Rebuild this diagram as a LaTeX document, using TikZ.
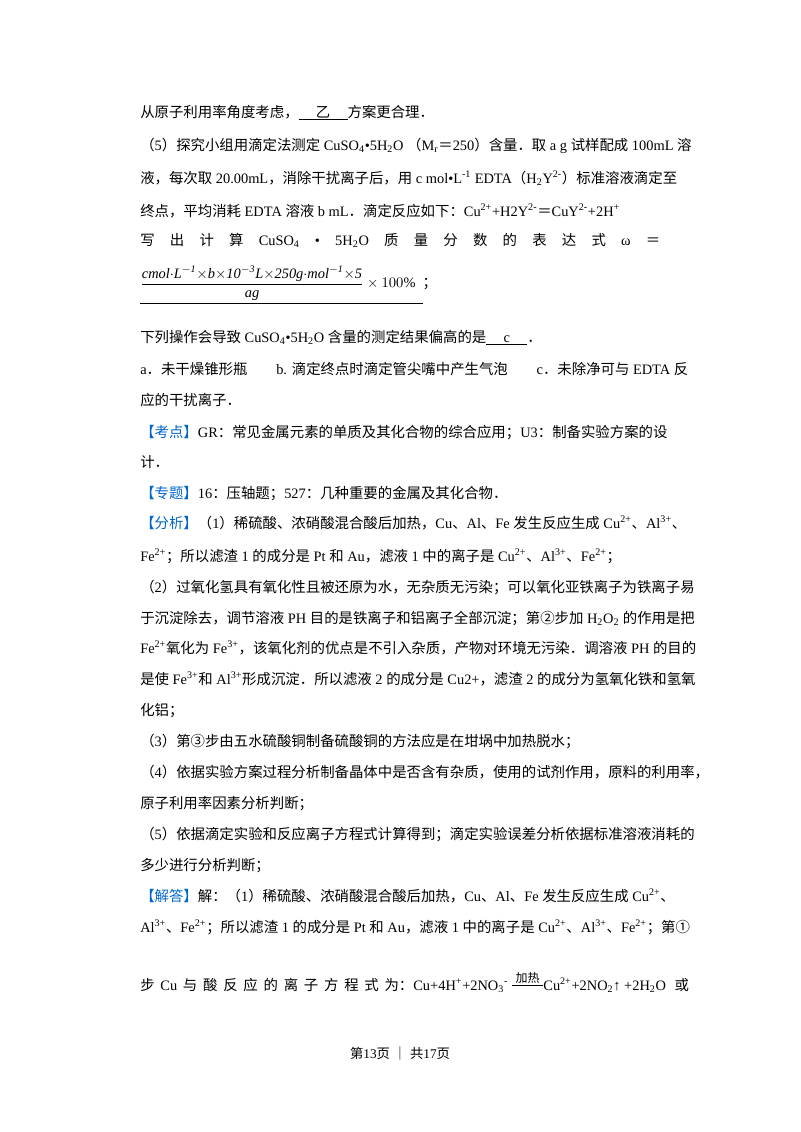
\documentclass[tikz,border=0pt]{standalone}
\usepackage{fontspec}
\usepackage{amsmath}
\setmainfont{Liberation Serif}
\newfontfamily\cjk{Noto Sans CJK SC}
\XeTeXinterchartokenstate=1
\newXeTeXintercharclass\CJKcls
\makeatletter
\def\setcls#1#2{\count@=#1\relax\loop\XeTeXcharclass\count@=\CJKcls\ifnum\count@<#2\advance\count@ by1\repeat}
\setcls{"4E00}{"9FFF}
\setcls{"3000}{"303F}
\setcls{"FF00}{"FFEF}
\setcls{"2460}{"24FF}
\makeatother
\XeTeXinterchartoks 0 \CJKcls = {\begingroup\cjk}
\XeTeXinterchartoks 4095 \CJKcls = {\begingroup\cjk}
\XeTeXinterchartoks \CJKcls 0 = {\endgroup}
\XeTeXinterchartoks \CJKcls 4095 = {\endgroup}
\definecolor{kblue}{RGB}{0,102,204}
\newcommand{\dn}[1]{\textsubscript{#1}}
\newcommand{\up}[1]{\textsuperscript{#1}}
\newcommand{\ans}[1]{\underline{\hspace{1.2em}#1\hspace{1.2em}}}
\newcommand{\kt}[1]{\textcolor{kblue}{#1}}
\begin{document}
\begin{tikzpicture}[x=0.75pt,y=-0.75pt,
  ln/.style={anchor=base west,inner sep=0pt,font=\fontsize{10.8}{13}\selectfont}]
\fill[white] (0,0) rectangle (800,1132);
\node[ln] (l1) at (140,117) {从原子利用率角度考虑，\ans{乙}方案更合理．};
\node[ln] (l2) at (140,150) {（5）探究小组用滴定法测定 CuSO\dn{4}•5H\dn{2}O （M\dn{r}＝250）含量．取 a g 试样配成 100mL 溶};
\node[ln] (l3) at (140,183) {液，每次取 20.00mL，消除干扰离子后，用 c mol•L\up{-1} EDTA（H\dn{2}Y\up{2-}）标准溶液滴定至};
\node[ln] (l4) at (140,216) {终点，平均消耗 EDTA 溶液 b mL．滴定反应如下：Cu\up{2+}+H2Y\up{2-}＝CuY\up{2-}+2H\up{+}};
\node[ln] (l5) at (140,245) {\makebox[390pt][s]{写\hfill 出\hfill 计\hfill 算\hfill CuSO\dn{4}\hfill •\hfill 5H\dn{2}O\hfill 质\hfill 量\hfill 分\hfill 数\hfill 的\hfill 表\hfill 达\hfill 式\hfill ω\hfill ＝}};
\node[ln,anchor=west] (l6) at (140,285) {\underline{$\dfrac{\mathit{cmol{\cdot}L^{-1}{\times}b{\times}10^{-3}L{\times}250g{\cdot}mol^{-1}{\times}5}}{\mathit{ag}}\times100\%$\hspace{0.5em}}；};
\node[ln] (l7) at (140,342) {下列操作会导致 CuSO\dn{4}•5H\dn{2}O 含量的测定结果偏高的是\ans{c}．};
\node[ln] (l8) at (140,374) {a．未干燥锥形瓶\hspace{2em}b. 滴定终点时滴定管尖嘴中产生气泡\hspace{2em}c．未除净可与 EDTA 反};
\node[ln] (l9) at (140,405) {应的干扰离子．};
\node[ln] (l10) at (140,437) {\kt{【考点】}GR：常见金属元素的单质及其化合物的综合应用；U3：制备实验方案的设};
\node[ln] (l11) at (140,467) {计．};
\node[ln] (l12) at (140,498) {\kt{【专题】}16：压轴题；527：几种重要的金属及其化合物．};
\node[ln] (l13) at (140,528) {\kt{【分析】}（1）稀硫酸、浓硝酸混合酸后加热，Cu、Al、Fe 发生反应生成 Cu\up{2+}、Al\up{3+}、};
\node[ln] (l14) at (140,561) {Fe\up{2+}；所以滤渣 1 的成分是 Pt 和 Au，滤液 1 中的离子是 Cu\up{2+}、Al\up{3+}、Fe\up{2+}；};
\node[ln] (l15) at (140,592) {（2）过氧化氢具有氧化性且被还原为水，无杂质无污染；可以氧化亚铁离子为铁离子易};
\node[ln] (l16) at (140,623) {于沉淀除去，调节溶液 PH 目的是铁离子和铝离子全部沉淀；第②步加 H\dn{2}O\dn{2} 的作用是把};
\node[ln] (l17) at (140,653) {Fe\up{2+}氧化为 Fe\up{3+}，该氧化剂的优点是不引入杂质，产物对环境无污染．调溶液 PH 的目的};
\node[ln] (l18) at (140,684) {是使 Fe\up{3+}和 Al\up{3+}形成沉淀．所以滤液 2 的成分是 Cu2+，滤渣 2 的成分为氢氧化铁和氢氧};
\node[ln] (l19) at (140,715) {化铝；};
\node[ln] (l20) at (140,746) {（3）第③步由五水硫酸铜制备硫酸铜的方法应是在坩埚中加热脱水；};
\node[ln] (l21) at (140,777) {（4）依据实验方案过程分析制备晶体中是否含有杂质，使用的试剂作用，原料的利用率，};
\node[ln] (l22) at (140,808) {原子利用率因素分析判断；};
\node[ln] (l23) at (140,839) {（5）依据滴定实验和反应离子方程式计算得到；滴定实验误差分析依据标准溶液消耗的};
\node[ln] (l24) at (140,870) {多少进行分析判断；};
\node[ln] (l25) at (140,901) {\kt{【解答】}解：（1）稀硫酸、浓硝酸混合酸后加热，Cu、Al、Fe 发生反应生成 Cu\up{2+}、};
\node[ln] (l26) at (140,932) {Al\up{3+}、Fe\up{2+}；所以滤渣 1 的成分是 Pt 和 Au，滤液 1 中的离子是 Cu\up{2+}、Al\up{3+}、Fe\up{2+}；第①};
\node[ln] (l27) at (140,990) {步\hspace{0.4em}Cu\hspace{0.4em}与\hspace{0.4em}酸\hspace{0.4em}反\hspace{0.4em}应\hspace{0.4em}的\hspace{0.4em}离\hspace{0.4em}子\hspace{0.4em}方\hspace{0.4em}程\hspace{0.4em}式\hspace{0.4em}为：Cu+4H\up{+}+2NO\dn{3}\up{-} $\overset{\textit{\small 加热}}{\rule[0.3em]{2.2em}{0.5pt}}$Cu\up{2+}+2NO\dn{2}↑ +2H\dn{2}O\hspace{0.6em}或};
\node[ln,anchor=base] (l28) at (400,1058) {\fontsize{10}{12}\selectfont 第13页 ｜ 共17页};
\end{tikzpicture}
\end{document}
